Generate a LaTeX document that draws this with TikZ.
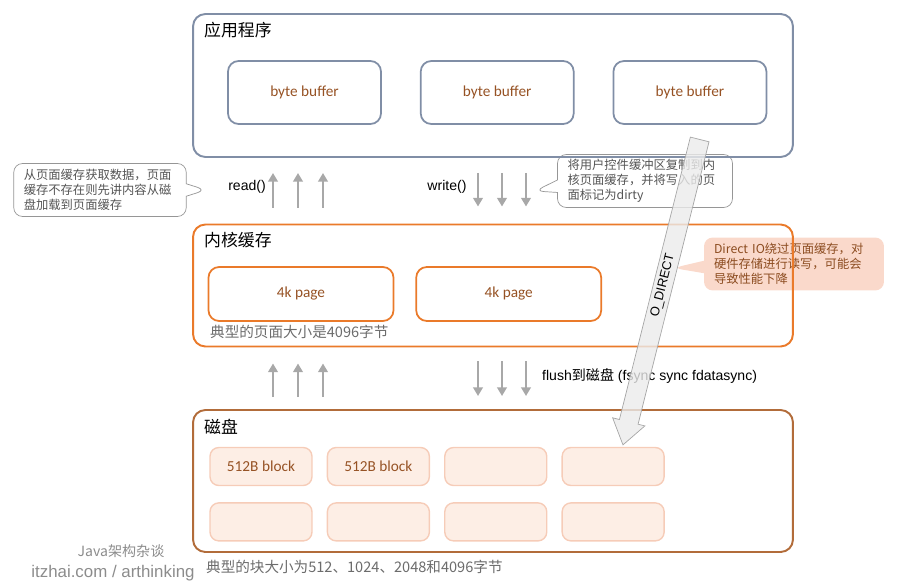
\documentclass[tikz,border=0pt]{standalone}
\usepackage{fontspec}
\setmainfont{Carlito}
\newfontfamily\cjk{Noto Sans CJK SC}
\newfontfamily\helv{Liberation Sans}
\usepackage{tikz}
\usetikzlibrary{shapes.arrows, shapes.callouts, arrows.meta, positioning, calc}

\definecolor{appline}{RGB}{128,142,166}
\definecolor{kernline}{RGB}{234,122,42}
\definecolor{diskline}{RGB}{178,108,58}
\definecolor{boxtext}{RGB}{150,82,36}
\definecolor{blockfill}{RGB}{253,238,229}
\definecolor{blockline}{RGB}{246,204,184}
\definecolor{notefill}{RGB}{250,217,203}
\definecolor{notebrown}{RGB}{140,76,32}
\definecolor{notegray}{RGB}{150,150,150}
\definecolor{notetext}{RGB}{85,85,85}
\definecolor{arrowgray}{RGB}{168,168,168}
\definecolor{capgray}{RGB}{108,108,108}

\tikzset{
    layer/.style={
        rectangle, rounded corners=7pt, line width=1.1pt,
        minimum width=12cm
    },
    buffer/.style={
        rectangle, draw=appline, rounded corners=6pt, line width=1pt,
        minimum width=3.06cm, minimum height=1.26cm,
        text=boxtext, font=\fontsize{8.7}{10}\selectfont
    },
    page/.style={
        rectangle, draw=kernline, rounded corners=6pt, line width=1pt,
        minimum width=3.7cm, minimum height=1.08cm,
        text=boxtext, font=\fontsize{8.7}{10}\selectfont
    },
    diskblock/.style={
        rectangle, draw=blockline, fill=blockfill, rounded corners=5pt, line width=0.8pt,
        minimum width=2.04cm, minimum height=0.76cm,
        text=boxtext, font=\fontsize{8.7}{10}\selectfont
    },
    title/.style={anchor=west, font=\cjk\fontsize{9.6}{11}\selectfont},
    caption/.style={anchor=west, text=capgray, font=\cjk\fontsize{8.3}{10}\selectfont},
    call/.style={font=\helv\fontsize{8}{9}\selectfont},
    note/.style={
        rectangle callout, rounded corners=5pt, align=left,
        inner xsep=0.2cm, inner ysep=0.1cm, minimum height=1.06cm,
        font=\cjk\fontsize{7}{8.4}\selectfont
    },
    flow/.style={draw=arrowgray, line width=1.7pt, -{Triangle[width=5.5pt,length=5pt]}},
    direct/.style={
        single arrow, draw=black!35, fill=black!8, fill opacity=0.8, text opacity=1,
        minimum height=6.3cm, single arrow head extend=0.14cm, single arrow tip angle=70,
        inner xsep=0pt, inner ysep=2pt, font=\helv\fontsize{7.3}{8}\selectfont
    },
    wmark/.style={text=black!45}
}

\begin{document}
\begin{tikzpicture}[x=0.02cm, y=-0.02cm]
    \useasboundingbox (0,0) rectangle (900,588);

    % Notes
    \node [note, draw=notegray, fill=white, text=notetext, text width=3.05cm,
           callout absolute pointer={(206,190)}] (readnote) at (100,190)
        {从页面缓存获取数据，页面\\缓存不存在则先讲内容从磁\\盘加载到页面缓存};
    \node [note, draw=notegray, fill=white, text=notetext, text width=3.1cm,
           callout absolute pointer={(535,191)}] (writenote) at (645,181)
        {将用户控件缓冲区复制到内\\核页面缓存，并将写入的页\\面标记为dirty};
    \node [note, fill=notefill, text=notebrown, text width=3.2cm,
           callout absolute pointer={(673,268)}] (directnote) at (794,264)
        {Direct IO绕过页面缓存，对\\硬件存储进行读写，可能会\\导致性能下降};

    % Layers
    \node [layer, draw=appline, minimum height=2.86cm] (app) at (493,85.5) {};
    \node [layer, draw=kernline, minimum height=2.44cm] (kernel) at (493,285.5) {};
    \node [layer, draw=diskline, minimum height=2.84cm] (disk) at (493,481) {};
    \node [title] at (198,30) {应用程序};
    \node [title] at (198,240) {内核缓存};
    \node [title] at (198,427) {磁盘};

    % Boxes
    \node [buffer] (buf1) at (304.5,92.5) {byte buffer};
    \node [buffer, right=0.76cm of buf1] (buf2) {byte buffer};
    \node [buffer, right=0.76cm of buf2] (buf3) {byte buffer};
    \node [page] (page1) at (301,294) {4k page};
    \node [page, right=0.42cm of page1] (page2) {4k page};
    \node [caption] (pagesize) at (204,332) {典型的页面大小是4096字节};

    \node [diskblock] (b11) at (261,466.5) {512B block};
    \node [diskblock, right=0.28cm of b11] (b12) {512B block};
    \node [diskblock, right=0.28cm of b12] (b13) {};
    \node [diskblock, right=0.28cm of b13] (b14) {};
    \node [diskblock, below=0.32cm of b11] (b21) {};
    \node [diskblock, below=0.32cm of b12] (b22) {};
    \node [diskblock, below=0.32cm of b13] (b23) {};
    \node [diskblock, below=0.32cm of b14] (b24) {};
    \node [caption] (blocksize) at (200,567) {典型的块大小为512、1024、2048和4096字节};

    % Calls
    \node [call] (readlbl) at (247,187) {read()};
    \node [call] (writelbl) at (447,187) {write()};
    \node [call, anchor=west] (flushlbl) at (536,376) {flush{\cjk 到磁盘} (fsync sync fdatasync)};

    \foreach \x in {273,298,323} {
        \draw [flow, shorten <=0.32cm, shorten >=0.3cm] (\x,0 |- kernel.north) -- (\x,0 |- app.south);
        \draw [flow, shorten <=0.24cm, shorten >=0.32cm] (\x,0 |- disk.north) -- (\x,0 |- kernel.south);
    }
    \foreach \x in {478,502,526} {
        \draw [flow, shorten <=0.3cm, shorten >=0.34cm] (\x,0 |- app.south) -- (\x,0 |- kernel.north);
        \draw [flow, shorten <=0.28cm, shorten >=0.26cm] (\x,0 |- kernel.south) -- (\x,0 |- disk.north);
    }

    % O_DIRECT
    \node [direct, rotate=75.9, shape border rotate=180] (odirect) at (663,285.5) {O\_DIRECT};

    % Watermark
    \node [wmark, font=\cjk\fontsize{8}{9}\selectfont] (wm1) at (121,551) {Java架构杂谈};
    \node [wmark, font=\helv\fontsize{9.6}{11}\selectfont] (wm2) at (113,573) {itzhai.com / arthinking};
\end{tikzpicture}
\end{document}
